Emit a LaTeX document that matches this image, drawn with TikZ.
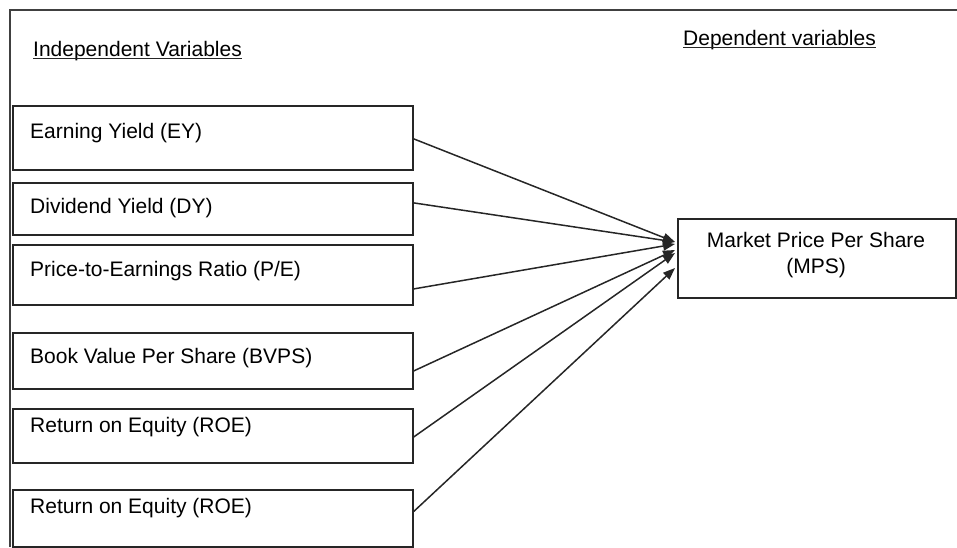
\documentclass[tikz,border=0pt]{standalone}
\usepackage{fontspec}
\setmainfont{Liberation Sans}
\usetikzlibrary{arrows.meta,calc}
\begin{document}
\begin{tikzpicture}[x=1pt,y=-1pt,
  every node/.style={font=\fontsize{21}{26}\selectfont, text=black},
  box/.style={draw=black!85, line width=1.8pt, rectangle, inner sep=0pt, anchor=north west, minimum width=400pt},
  lbl/.style={anchor=base west, inner sep=0pt},
  hdr/.style={anchor=base west, inner sep=0pt},
  uline/.style={draw=black!85, line width=1.8pt},
  frame/.style={draw=black!75, line width=1.3pt},
  conn/.style={draw=black!85, line width=1.5pt, -{Triangle[length=12pt,width=9pt]}}]
\useasboundingbox (0,0) rectangle (957,547);
\draw[frame] (10,547) -- (10,10) -- (957,10);

\node[hdr] (h1) at (33,56) {Independent Variables};
\draw[uline] ([yshift=-2.5pt]h1.base west) -- ([yshift=-2.5pt]h1.base east);
\node[hdr] (h2) at (683,45) {Dependent variables};
\draw[uline] ([yshift=-2.5pt]h2.base west) -- ([yshift=-2.5pt]h2.base east);

\node[box, minimum height=64pt] (ey) at (12,105) {};
\node[box, minimum height=52pt] (dy) at (12,182) {};
\node[box, minimum height=60pt] (pe) at (12,244) {};
\node[box, minimum height=56pt] (bv) at (12,332) {};
\node[box, minimum height=54pt] (roea) at (12,408) {};
\node[box, minimum height=57pt] (roeb) at (12,489) {};

\node[lbl] (tey) at (30,138) {Earning Yield (EY)};
\node[lbl] (tdy) at (30,213) {Dividend Yield (DY)};
\node[lbl] (tpe) at (30,276) {Price-to-Earnings Ratio (P/E)};
\node[lbl] (tbv) at (30,363) {Book Value Per Share (BVPS)};
\node[lbl] (troea) at (30,432) {Return on Equity (ROE)};
\node[lbl] (troeb) at (30,513) {Return on Equity (ROE)};

\node[box, minimum width=278pt, minimum height=79pt] (mps) at (677,218) {};
\node[anchor=north, inner sep=0pt, align=center] (tmps) at (816,232) {Market Price Per Share\\(MPS)};

\coordinate (e1) at (675,242);
\coordinate (e2) at (675,242);
\coordinate (e3) at (675,244);
\coordinate (e4) at (675,250);
\coordinate (e5) at (675,253);
\coordinate (e6) at (675,268);

\draw[conn] ($(ey.east)+(0,1)$) -- (e1);
\draw[conn] ($(dy.east)+(0,-6)$) -- (e2);
\draw[conn] ($(pe.east)+(0,14)$) -- (e3);
\draw[conn] ($(bv.east)+(0,10)$) -- (e4);
\draw[conn] ($(roea.east)+(0,1)$) -- (e5);
\draw[conn] ($(roeb.east)+(0,-7)$) -- (e6);
\end{tikzpicture}
\end{document}
